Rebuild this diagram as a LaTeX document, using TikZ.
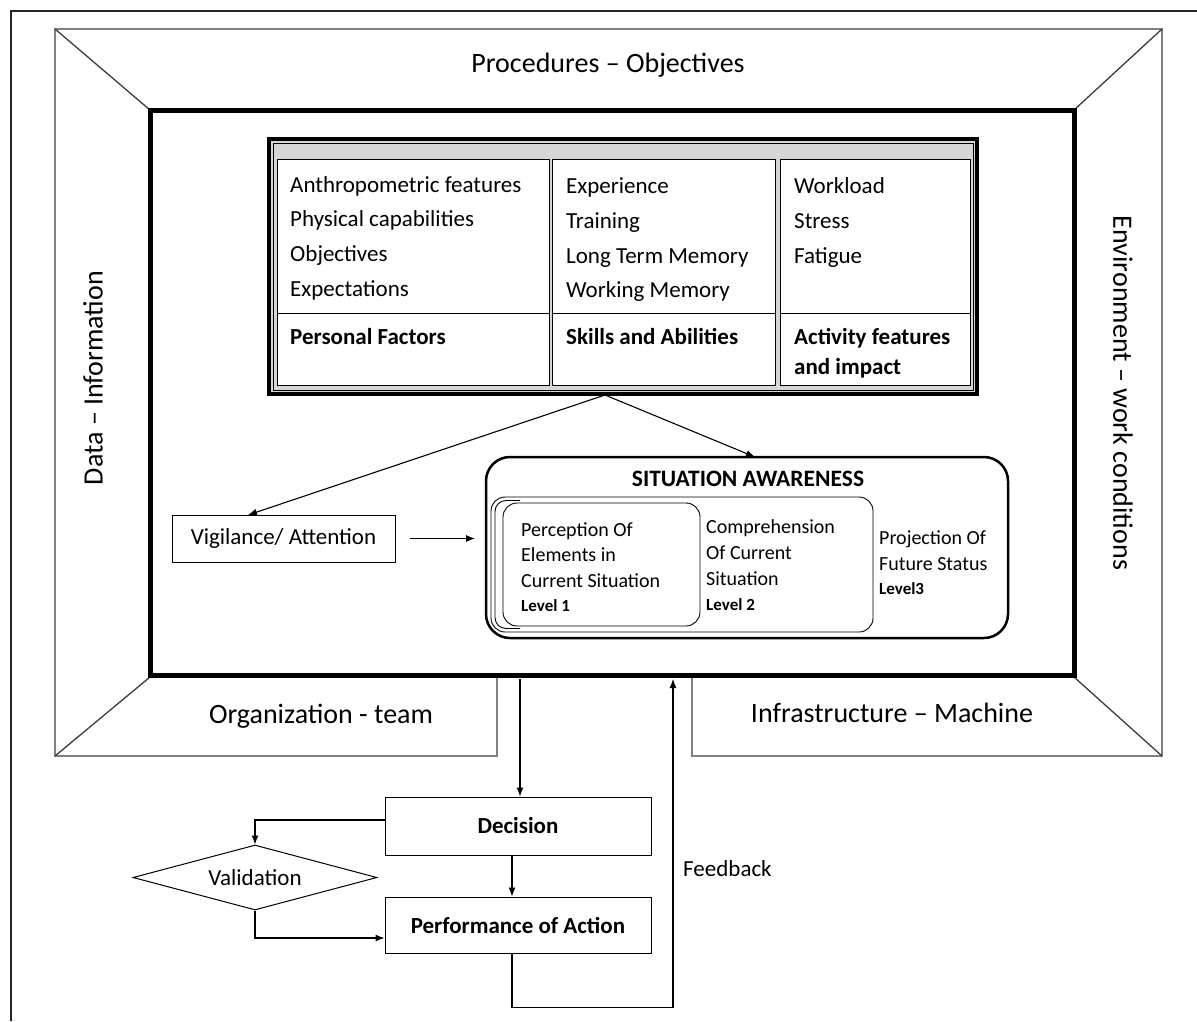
\documentclass[tikz,border=0pt]{standalone}
\usepackage{fontspec}
\setmainfont{Carlito}
\usetikzlibrary{shapes.geometric,arrows.meta}
\definecolor{framegray}{RGB}{128,128,128}
\definecolor{diaggray}{RGB}{60,60,60}
\definecolor{tblgray}{RGB}{214,214,214}
\begin{document}
\begin{tikzpicture}[x=1pt,y=-1pt,
  frameln/.style={draw=framegray, line width=1.8pt},
  diagln/.style={draw=diaggray, line width=1.3pt},
  big/.style={font=\fontsize{28}{32}\selectfont, inner sep=0},
  tx/.style={font=\fontsize{23}{27}\selectfont, inner sep=0, anchor=base west},
  txb/.style={font=\bfseries\fontsize{23}{27}\selectfont, inner sep=0, anchor=base west},
  sat/.style={font=\fontsize{20}{24}\selectfont, inner sep=0, anchor=base west},
  lvl/.style={font=\bfseries\fontsize{17}{20}\selectfont, inner sep=0, anchor=base west},
  cell/.style={draw, line width=0.9pt, fill=white, inner sep=0},
  box/.style={draw, line width=1pt, inner sep=0},
  arr/.style={line width=1.1pt, -{Latex[length=9pt,width=7pt]}},
  ln/.style={line width=1.1pt}
]
\useasboundingbox (0,0) rectangle (1197,1021);
% outer black frame (left and top)
\draw[line width=2.5pt, black!85] (11,1021) -- (11,11) -- (1197,11);
% trapezoid frame
\draw[frameln] (692,678) -- (692,756) -- (1162,756) -- (1162,29) -- (55,29) -- (55,756) -- (497,756) -- (497,678);
\draw[diagln] (55,29) -- (150,110);
\draw[diagln] (1162,29) -- (1074,110);
\draw[diagln] (55,756) -- (150,677);
\draw[diagln] (1162,756) -- (1074,677);
% main thick rectangle
\node[draw, line width=5pt, minimum width=924, minimum height=565, inner sep=0] (main) at (612,392.5) {};
% frame labels
\node[big] (proc) at (608,65) {Procedures – Objectives};
\node[big, rotate=90] (data) at (93,378) {Data – Information};
\node[big, rotate=-90] (env) at (1123,393) {Environment – work conditions};
\node[big] (org) at (321,716) {Organization - team};
\node[big] (infra) at (892,713) {Infrastructure – Machine};
% factor table
\node[draw, line width=3.5pt, fill=tblgray, minimum width=708, minimum height=255, inner sep=0] (tbl) at (623,266.5) {};
\draw[line width=0.8pt] (273,143) rectangle (973,390);
\node[cell, minimum width=272, minimum height=226] (c1) at (413,272) {};
\node[cell, minimum width=223, minimum height=226] (c2) at (663.5,272) {};
\node[cell, minimum width=190, minimum height=226] (c3) at (875,272) {};
\draw[line width=0.9pt] (277,313) -- (549,313);
\draw[line width=0.9pt] (552,313) -- (775,313);
\draw[line width=0.9pt] (780,313) -- (970,313);
\node[tx] (a1) at (290,192) {Anthropometric features};
\node[tx] (a2) at (290,226) {Physical capabilities};
\node[tx] (a3) at (290,261) {Objectives};
\node[tx] (a4) at (290,296) {Expectations};
\node[txb] (a5) at (290,344) {Personal Factors};
\node[tx] (b1) at (566,193) {Experience};
\node[tx] (b2) at (566,228) {Training};
\node[tx] (b3) at (566,263) {Long Term Memory};
\node[tx] (b4) at (566,297) {Working Memory};
\node[txb] (b5) at (566,344) {Skills and Abilities};
\node[tx] (d1) at (794,193) {Workload};
\node[tx] (d2) at (794,228) {Stress};
\node[tx] (d3) at (794,263) {Fatigue};
\node[txb] (d4) at (794,344) {Activity features};
\node[txb] (d5) at (794,374) {and impact};
% vigilance
\node[box, minimum width=223, minimum height=47, font=\fontsize{23}{27}\selectfont] (vig) at (283.5,538.5) {Vigilance/ Attention};
% situation awareness
\node[draw, line width=2.5pt, rounded corners=24, minimum width=522, minimum height=181, inner sep=0] (sa) at (747,547.5) {};
\node[inner sep=0, font=\bfseries\fontsize{23.5}{27}\selectfont] (satitle) at (748,479) {SITUATION AWARENESS};
\node[draw, line width=0.9pt, rounded corners=14, minimum width=382, minimum height=135, inner sep=0] (l2) at (682,564.5) {};
\draw[line width=0.9pt, rounded corners=11] (520,500.5) -- (495,500.5) -- (495,628.5) -- (520,628.5);
\node[draw, line width=0.9pt, fill=white, rounded corners=14, minimum width=197, minimum height=123, inner sep=0] (l1) at (601.5,564.5) {};
\node[sat] (p1) at (521,536) {Perception Of};
\node[sat] (p2) at (521,561) {Elements in};
\node[sat] (p3) at (521,587) {Current Situation};
\node[lvl] (p4) at (521,611) {Level 1};
\node[sat] (q1) at (706,533) {Comprehension};
\node[sat] (q2) at (706,559) {Of Current};
\node[sat] (q3) at (706,585) {Situation};
\node[lvl] (q4) at (706,610) {Level 2};
\node[sat] (r1) at (879,544) {Projection Of};
\node[sat] (r2) at (879,570) {Future Status};
\node[lvl] (r3) at (879,594) {Level3};
% arrows from table
\coordinate (src) at (605,395);
\coordinate (vigtop) at (248,515);
\coordinate (satop) at (755,457);
\draw[arr] (src) -- (vigtop);
\draw[arr] (src) -- (satop);
\coordinate (vigR) at (410,538.5);
\coordinate (saL) at (475,538.5);
\draw[arr] (vigR) -- (saL);
% bottom flow
\node[box, minimum width=266, minimum height=58, font=\bfseries\fontsize{23}{27}\selectfont] (dec) at (518,826) {Decision};
\node[box, minimum width=266, minimum height=56, font=\bfseries\fontsize{23}{27}\selectfont] (perf) at (518,925) {Performance of Action};
\node[draw, line width=1pt, diamond, aspect=3.75, minimum width=244, minimum height=65, inner sep=0, font=\fontsize{23}{27}\selectfont] (val) at (255,877.5) {Validation};
\coordinate (mdec) at (520,679);
\draw[arr] (mdec) -- (mdec |- dec.north);
\draw[arr] ([xshift=-6pt]dec.south) -- ([xshift=-6pt]perf.north);
\draw[arr] ([yshift=6pt]dec.west) -| (val.north);
\draw[arr] (val.south) |- ([yshift=-13pt]perf.west);
\coordinate (mfb) at (673,679);
\draw[arr] ([xshift=-6pt]perf.south) -- ++(0,54) -| (mfb);
\node[tx] (fb) at (683,876) {Feedback};
\end{tikzpicture}
\end{document}
